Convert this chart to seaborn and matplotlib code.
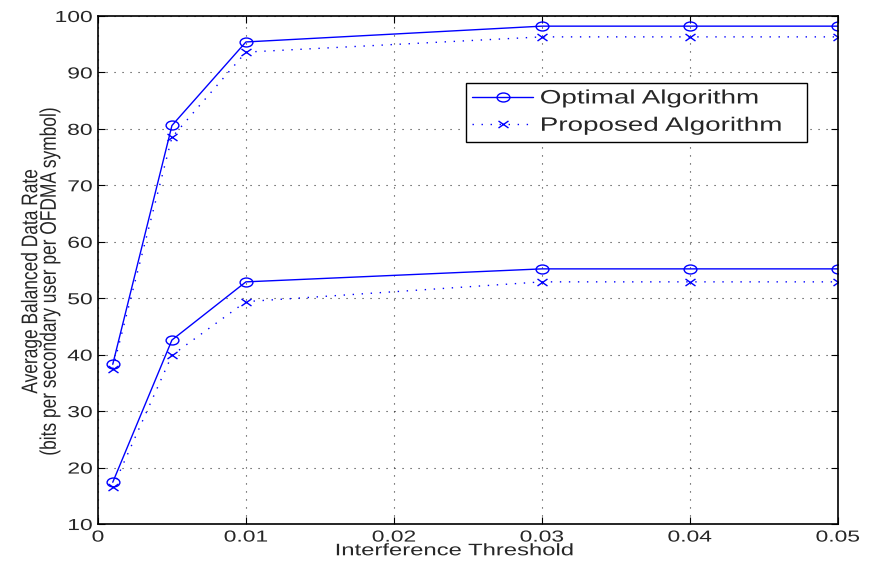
import pandas as pd
import seaborn as sns
import matplotlib
matplotlib.use("Agg")
import matplotlib.pyplot as plt
from matplotlib.path import Path
from matplotlib.transforms import Affine2D
from matplotlib.patheffects import AbstractPathEffect

# --- DATA ---
thresholds = [0.001, 0.005, 0.01, 0.03, 0.04, 0.05]
optimal_high = [38.3, 80.6, 95.4, 98.2, 98.2, 98.2]
proposed_high = [37.5, 78.5, 93.6, 96.3, 96.3, 96.3]
optimal_low = [17.4, 42.6, 52.9, 55.2, 55.2, 55.2]
proposed_low = [16.5, 39.9, 49.4, 52.9, 52.9, 52.9]

x_ticks = [0, 0.01, 0.02, 0.03, 0.04, 0.05]
x_tick_labels = ["0", "0.01", "0.02", "0.03", "0.04", "0.05"]
y_ticks = list(range(10, 101, 10))

# the original figure is stretched sideways (wide text, oval markers)
SX = 1.43


class HStretch(AbstractPathEffect):
    """draw text stretched horizontally around its anchor"""
    def __init__(self, sx=SX, ha="center"):
        super().__init__()
        self.sx = sx
        self.ha = ha

    def draw_path(self, renderer, gc, tpath, affine, rgbFace=None):
        bb = tpath.get_extents(affine)
        if self.ha == "left":
            x0 = affine.get_matrix()[0, 2]
        elif self.ha == "right":
            x0 = bb.x1
        else:
            x0 = 0.5 * (bb.x0 + bb.x1)
        aff = affine + Affine2D().translate(-x0, 0).scale(self.sx, 1.0).translate(x0, 0)
        renderer.draw_path(gc, tpath, aff, rgbFace)


oval = Path.unit_circle().transformed(Affine2D().scale(SX, 1.0))
cross = Path([(-SX, -1), (SX, 1), (-SX, 1), (SX, -1)],
             [Path.MOVETO, Path.LINETO, Path.MOVETO, Path.LINETO])

sns.set_style("white")
plt.rcParams['font.family'] = ['Liberation Sans', 'DejaVu Sans']

fig = plt.figure(figsize=(8.7, 5.67), dpi=100)
ax = fig.add_axes([0.1126, 0.0758, 0.8504, 0.896])

df_opt_h = pd.DataFrame({"x": thresholds, "y": optimal_high})
df_pro_h = pd.DataFrame({"x": thresholds, "y": proposed_high})
df_opt_l = pd.DataFrame({"x": thresholds, "y": optimal_low})
df_pro_l = pd.DataFrame({"x": thresholds, "y": proposed_low})

opt_style = dict(color="blue", linestyle="-", linewidth=1.0, marker=oval,
                 markersize=9.2, markerfacecolor="none", markeredgecolor="blue",
                 markeredgewidth=1.0)
pro_style = dict(color="blue", linestyle=(0, (1, 5.5)), linewidth=1.0, marker=cross,
                 markersize=7.2, markerfacecolor="none", markeredgecolor="blue",
                 markeredgewidth=1.0)

sns.lineplot(data=df_opt_h, x="x", y="y", ax=ax, label="Optimal Algorithm", **opt_style)
sns.lineplot(data=df_pro_h, x="x", y="y", ax=ax, label="Proposed Algorithm", **pro_style)
sns.lineplot(data=df_opt_l, x="x", y="y", ax=ax, **opt_style)
sns.lineplot(data=df_pro_l, x="x", y="y", ax=ax, **pro_style)

ax.set_xlim(0, 0.05)
ax.set_ylim(10, 100)
ax.set_xticks(x_ticks)
ax.set_xticklabels(x_tick_labels)
ax.set_yticks(y_ticks)
ax.tick_params(direction="in", length=5, width=0.8, labelsize=11.5,
               top=True, right=True, bottom=True, left=True, color="black")
ax.tick_params(axis="x", pad=4)
ax.tick_params(axis="y", pad=4)
ax.grid(True, linestyle=(0, (1, 6.2)), color="black", linewidth=0.8, alpha=0.8)

for lab in ax.get_xticklabels():
    lab.set_path_effects([HStretch(ha="center")])
for lab in ax.get_yticklabels():
    lab.set_path_effects([HStretch(ha="right")])

for s in ax.spines.values():
    s.set_visible(True)
    s.set_color("black")
    s.set_linewidth(1.2)

ax.set_xlabel("Interference Threshold", fontsize=12,
              path_effects=[HStretch(ha="center")])
ax.xaxis.set_label_coords(0.482, -0.0615)
ax.xaxis.label.set_verticalalignment("baseline")

# rotated label: thicken the glyphs sideways like the original
ax.set_ylabel("Average Balanced Data Rate\n(bits per secondary user per OFDMA symbol)",
              fontsize=12.5, linespacing=1.3,
              path_effects=[HStretch(sx=1.3, ha="center")])
ax.yaxis.set_label_coords(-0.0548, 0.478)

leg = ax.legend(loc="upper left", bbox_to_anchor=(0.497, 0.756, 0.462, 0.112),
                mode="expand", fontsize=14, frameon=True, fancybox=False,
                edgecolor="black", framealpha=1, borderpad=0.35, handlelength=3.1,
                labelspacing=0.5, handletextpad=0.36, borderaxespad=0)
leg.get_frame().set_linewidth(1.0)
for t in leg.get_texts():
    t.set_path_effects([HStretch(ha="left")])

fig.savefig("out.png", dpi=100)
